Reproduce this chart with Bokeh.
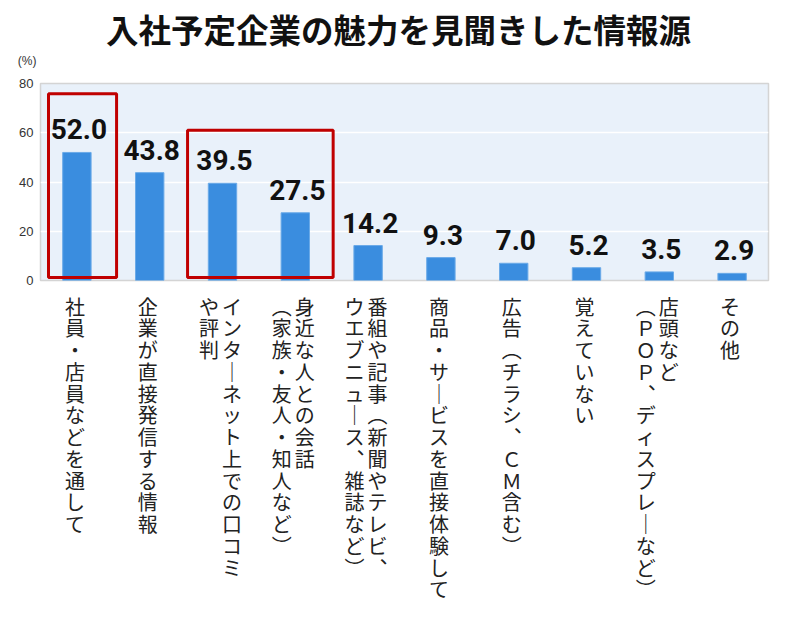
from bokeh.plotting import figure
from bokeh.layouts import column
from bokeh.models import ColumnDataSource, LabelSet, BoxAnnotation, FactorRange, Range1d, FixedTicker
from bokeh.core.properties import value
from bokeh.embed import file_html
from bokeh.resources import INLINE

# ---- data ----
categories = [
    "社員・店員などを通して",
    "企業が直接発信する情報",
    "インターネット上での口コミや評判",
    "身近な人との会話（家族・友人・知人など）",
    "番組や記事（新聞やテレビ、ウエブニュース、雑誌など）",
    "商品・サービスを直接体験して",
    "広告（チラシ、ＣＭ含む）",
    "覚えていない",
    "店頭など（ＰＯＰ、ディスプレーなど）",
    "その他",
]
values = [52.0, 43.8, 39.5, 27.5, 14.2, 9.3, 7.0, 5.2, 3.5, 2.9]
label_columns = [
    ["社員・店員などを通して"],
    ["企業が直接発信する情報"],
    ["インターネット上での口コミ", "や評判"],
    ["身近な人との会話", "（家族・友人・知人など）"],
    ["番組や記事（新聞やテレビ、", "ウエブニュース、雑誌など）"],
    ["商品・サービスを直接体験して"],
    ["広告（チラシ、ＣＭ含む）"],
    ["覚えていない"],
    ["店頭など", "（ＰＯＰ、ディスプレーなど）"],
    ["その他"],
]
y_ticks = [0, 20, 40, 60, 80]
title_text = "入社予定企業の魅力を見聞きした情報源"
unit_text = "(%)"

# vertical presentation forms for tategaki
VERT = {"（": "︵", "）": "︶", "、": "︑", "ー": "｜"}

def vertical(s):
    return "\n".join(VERT.get(c, c) for c in s)

W = 784
xr = FactorRange(*categories, range_padding=0)
common = dict(width=W, output_backend="svg", toolbar_location=None, tools="",
              min_border_left=40, min_border_right=16)

def style_yaxis(ax, size, standoff):
    ax.axis_line_color = None
    ax.major_tick_line_color = None
    ax.minor_tick_line_color = None
    ax.major_tick_out = 0
    ax.major_tick_in = 0
    ax.major_label_standoff = standoff
    ax.major_label_text_font = "Liberation Sans"
    ax.major_label_text_font_size = size
    ax.major_label_text_color = "#333333"

# ---- header (title + unit) ----
top = figure(height=73, x_range=Range1d(0, 728), y_range=Range1d(0, 73),
             x_axis_location=None, min_border_top=0, min_border_bottom=0,
             outline_line_color=None, **common)
top.grid.visible = False
top.yaxis.ticker = FixedTicker(ticks=[13])
top.yaxis.major_label_overrides = {13: unit_text}
style_yaxis(top.yaxis, "12px", 4)
top.text(x=[358], y=[45], text=[title_text], text_align="center", text_baseline="middle",
         text_font=value("Noto Sans CJK JP"), text_font_style="bold",
         text_font_size="32.5px", text_color="#111111")

# ---- main bar chart ----
p = figure(height=216, x_range=xr, y_range=Range1d(0, 80),
           x_axis_location=None, min_border_top=10, min_border_bottom=9, **common)
p.background_fill_color = "#e9f1fa"
p.outline_line_color = "#d4d4d4"
p.outline_line_width = 1.5
p.xgrid.visible = False
p.ygrid.grid_line_color = "white"
p.ygrid.grid_line_width = 1.5
p.yaxis.ticker = FixedTicker(ticks=y_ticks)
style_yaxis(p.yaxis, "13px", 7)

src = ColumnDataSource(dict(cat=categories, val=values,
                            txt=[f"{v:.1f}" for v in values]))
p.vbar(x="cat", top="val", width=0.39, source=src,
       fill_color="#3a8ddf", line_color="#6aaae8", line_width=1)

p.add_layout(LabelSet(x="cat", y="val", text="txt", source=src,
                      x_offset=2, y_offset=13,
                      text_align="center", text_baseline="alphabetic",
                      text_font=value("Roboto"),
                      text_font_style="bold", text_font_size="28px",
                      text_color="#111111"))

# highlight boxes (synthetic x coords, y in %)
box_bounds = [(0.11, 1.045, 75.8), (2.02, 4.02, 61.0)]
for (l, r, t) in box_bounds:
    p.add_layout(BoxAnnotation(left=l, right=r, top=t, bottom=1.2,
                               fill_alpha=0, line_color="#c00000", line_alpha=1,
                               line_width=3))

# ---- vertical category labels ----
lab = figure(height=313, x_range=xr, y_range=Range1d(0, 313),
             x_axis_location=None, y_axis_location=None,
             min_border_top=0, min_border_bottom=0, outline_line_color=None, **common)
lab.grid.visible = False
lx, lt, lo = [], [], []
for cat, cols in zip(categories, label_columns):
    n = len(cols)
    for j, col in enumerate(cols):
        lx.append(cat)
        lt.append(vertical(col))
        lo.append(-2 + ((n - 1) / 2 - j) * 23)
lsrc = ColumnDataSource(dict(x=lx, y=[311] * len(lx), t=lt, o=lo))
lab.text(x="x", y="y", text="t", x_offset="o", source=lsrc,
         text_align="center", text_baseline="top",
         text_font=value("Noto Sans CJK JP"), text_font_size="20px",
         text_line_height=0.75, text_color="#222222")

layout = column(top, p, lab, spacing=0)
open("out.html", "w").write(file_html(layout, INLINE))
